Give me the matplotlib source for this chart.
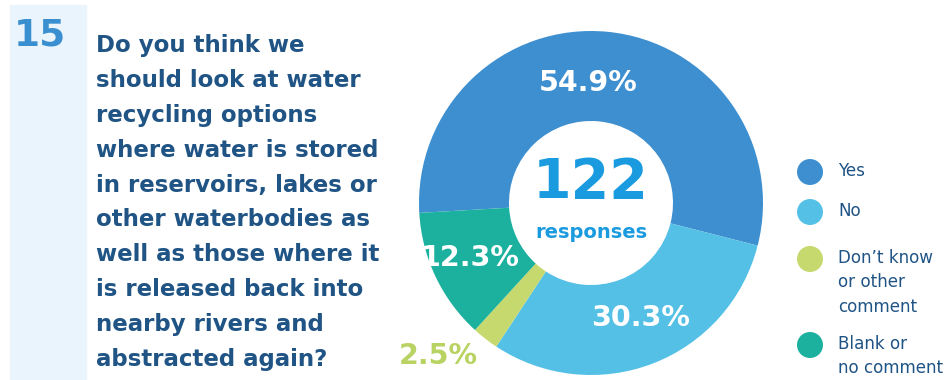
import numpy as np
import matplotlib.pyplot as plt
from matplotlib.patches import Circle, Rectangle

# data
categories = ["Yes", "No", "Don\u2019t know\nor other\ncomment", "Blank or\nno comment"]
shares = [54.9, 30.3, 2.5, 12.3]
colors = ["#3d8fd0", "#55c0e6", "#c6d96e", "#1cb19f"]
total_responses = 122
question = ("Do you think we\nshould look at water\nrecycling options\n"
            "where water is stored\nin reservoirs, lakes or\nother waterbodies as\n"
            "well as those where it\nis released back into\nnearby rivers and\n"
            "abstracted again?")

W, H = 946, 380
fig = plt.figure(figsize=(W / 100, H / 100), dpi=100)
ax = fig.add_axes([0, 0, 1, 1])

navy = "#1f5485"
font = "DejaVu Sans"

# donut
cx, cy, R = 591, H - 203, 172
wedges, _ = ax.pie(shares, colors=colors, startangle=183.3, counterclock=False,
                   center=(cx, cy), radius=R, frame=True,
                   wedgeprops=dict(width=R - 82, linewidth=0))
ax.set_xlim(0, W)
ax.set_ylim(0, H)
ax.set_aspect("equal")
ax.axis("off")

# left panel with question number
ax.add_patch(Rectangle((10, 0), 76, H - 5, color="#e9f4fc", zorder=0))
ax.text(14, H - 35, "15", fontsize=27, fontweight="bold", color="#3a8fd0",
        family=font, va="center", ha="left")
ax.text(96, H - 34, question, fontsize=16.5, fontweight="bold", color=navy,
        family=font, va="top", ha="left", linespacing=1.66)

# percentage labels: radial distance and small angular nudge per wedge
label_dist = [0.70, 0.73, 1.26, 0.77]
label_turn = [6.7, 2.0, -7.0, -1.0]
label_col = ["white", "white", "#b9d363", "white"]
for w, s, d, t, c in zip(wedges, shares, label_dist, label_turn, label_col):
    mid = np.deg2rad((w.theta1 + w.theta2) / 2 + t)
    x = cx + d * R * np.cos(mid)
    y = cy + d * R * np.sin(mid)
    ax.text(x, y, f"{s}%", fontsize=20.5, fontweight="bold", color=c,
            family=font, ha="center", va="center")

ax.text(cx, cy + 20, str(total_responses), fontsize=40, fontweight="heavy",
        color="#1a9be0", family=font, ha="center", va="center")
ax.text(cx, cy - 29, "responses", fontsize=14, fontweight="bold",
        color="#1a9be0", family=font, ha="center", va="center")

# legend
leg_y = [172, 212, 259, 345]
for lab, c, y in zip(categories, colors, leg_y):
    ax.add_patch(Circle((810, H - y), 13, color=c, lw=0))
    ax.text(838, H - y + 10, lab, fontsize=12.1, color=navy, family=font,
            fontweight="medium", ha="left", va="top", linespacing=1.45)

fig.savefig("out.png", dpi=100)
